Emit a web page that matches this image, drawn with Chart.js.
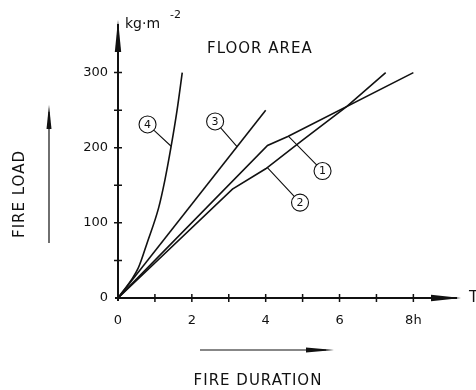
<!DOCTYPE html>
<html>
<head>
<meta charset="utf-8">
<script src="https://cdn.jsdelivr.net/npm/chart.js@4.4.1/dist/chart.umd.min.js"></script>
<style>
  html, body { margin: 0; padding: 0; background: #fff; }
  #fire-chart { display: block; }
</style>
</head>
<body>
<canvas id="fire-chart" width="476" height="390"></canvas>
<script>
// fire duration (h) vs fire load (kg/m2), curves 1..4
const hours1 = [0, 4.05, 4.6, 8];
const load1 = [0, 203, 215, 300];
const hours2 = [0, 3.1, 4, 5, 6.2, 7.25];
const load2 = [0, 145, 172, 210, 255, 300];
const hours3 = [0, 4];
const load3 = [0, 250];
const hours4 = [0, 0.55, 0.8, 1.1, 1.27, 1.44, 1.6, 1.74];
const load4 = [0, 40, 75, 120, 157, 202, 250, 300];

const durationLabels = [0, 2, 4, 6, 8];
const loadLabels = [0, 100, 200, 300];
const durationMarks = [1, 2, 3, 4, 5, 6, 7, 8];
const loadMarks = [50, 100, 150, 200, 250, 300];

// numbered callouts: circle position and the point on the curve it points at
const curveNames = ['1', '2', '3', '4'];
const calloutHours = [5.54, 4.93, 2.63, 0.80];
const calloutLoads = [169, 127, 235, 231];
const anchorHours = [4.62, 4.04, 3.23, 1.44];
const anchorLoads = [215, 174, 201, 202];

const ink = '#111';
const handFont = "'DejaVu Sans', sans-serif";

function pts(xs, ys) {
    return xs.map((x, i) => ({ x: x, y: ys[i] }));
}

function arrowHead(ctx, x, y, dir, len, half) {
    // dir: 'up' or 'right'
    ctx.beginPath();
    if (dir === 'up') {
        ctx.moveTo(x, y);
        ctx.lineTo(x - half, y + len);
        ctx.lineTo(x + half, y + len);
    } else {
        ctx.moveTo(x, y);
        ctx.lineTo(x - len, y - half);
        ctx.lineTo(x - len, y + half);
    }
    ctx.closePath();
    ctx.fill();
}

const sketchPlugin = {
    id: 'sketch',
    afterDraw(chart) {
        const ctx = chart.ctx;
        const xs = chart.scales.x, ys = chart.scales.y;
        const area = chart.chartArea;
        const x0 = xs.getPixelForValue(0), y0 = ys.getPixelForValue(0);
        ctx.save();
        ctx.strokeStyle = ink;
        ctx.fillStyle = ink;

        // axes
        ctx.lineWidth = 2;
        ctx.beginPath();
        ctx.moveTo(x0, y0 + 3);
        ctx.lineTo(x0, area.top + 4);
        ctx.moveTo(x0 - 3, y0);
        ctx.lineTo(area.right - 4, y0);
        ctx.stroke();
        arrowHead(ctx, x0, area.top, 'up', 32, 3.2);
        arrowHead(ctx, area.right, y0, 'right', 30, 3.2);

        // tick marks crossing the axes
        ctx.lineWidth = 1.5;
        ctx.beginPath();
        durationMarks.forEach(v => {
            const px = xs.getPixelForValue(v);
            ctx.moveTo(px, y0 - 4);
            ctx.lineTo(px, y0 + 4);
        });
        loadMarks.forEach(v => {
            const py = ys.getPixelForValue(v);
            ctx.moveTo(x0 - 4, py);
            ctx.lineTo(x0 + 4, py);
        });
        ctx.stroke();

        // callouts
        ctx.lineWidth = 1.1;
        ctx.font = '11px ' + handFont;
        ctx.textAlign = 'center';
        ctx.textBaseline = 'middle';
        const r = 8.5;
        curveNames.forEach((name, i) => {
            const cx = xs.getPixelForValue(calloutHours[i]);
            const cy = ys.getPixelForValue(calloutLoads[i]);
            const ax = xs.getPixelForValue(anchorHours[i]);
            const ay = ys.getPixelForValue(anchorLoads[i]);
            const d = Math.hypot(ax - cx, ay - cy);
            ctx.beginPath();
            ctx.arc(cx, cy, r, 0, Math.PI * 2);
            ctx.moveTo(cx + (ax - cx) * r / d, cy + (ay - cy) * r / d);
            ctx.lineTo(ax, ay);
            ctx.stroke();
            ctx.fillText(name, cx, cy + 0.5);
        });

        // unit and titles
        ctx.textAlign = 'left';
        ctx.textBaseline = 'alphabetic';
        ctx.font = '14px ' + handFont;
        ctx.fillText('kg·m', 125, 28);
        ctx.font = '11px ' + handFont;
        ctx.fillText('-2', 170, 18);

        ctx.font = '15px ' + handFont;
        ctx.letterSpacing = '1px';
        ctx.fillText('FLOOR AREA', 207, 53);
        ctx.textAlign = 'center';
        ctx.fillText('FIRE DURATION', 258, 385);
        ctx.save();
        ctx.translate(24, 194);
        ctx.rotate(-Math.PI / 2);
        ctx.fillText('FIRE LOAD', 0, 0);
        ctx.restore();
        ctx.letterSpacing = '0px';

        ctx.font = '15px ' + handFont;
        ctx.textAlign = 'left';
        ctx.textBaseline = 'middle';
        ctx.fillText('T', 469, y0);

        // direction arrows beside the axis titles
        ctx.lineWidth = 1.2;
        ctx.beginPath();
        ctx.moveTo(49, 243);
        ctx.lineTo(49, 112);
        ctx.moveTo(200, 350);
        ctx.lineTo(326, 350);
        ctx.stroke();
        arrowHead(ctx, 49, 105, 'up', 24, 2.5);
        arrowHead(ctx, 334, 350, 'right', 28, 2.5);

        ctx.restore();
    }
};

const lineStyle = { borderColor: ink, borderWidth: 1.6, pointRadius: 0, fill: false };

new Chart(document.getElementById('fire-chart').getContext('2d'), {
    type: 'line',
    data: {
        datasets: [
            Object.assign({ label: '1', data: pts(hours1, load1), tension: 0 }, lineStyle),
            Object.assign({ label: '2', data: pts(hours2, load2), tension: 0 }, lineStyle),
            Object.assign({ label: '3', data: pts(hours3, load3), tension: 0 }, lineStyle),
            Object.assign({ label: '4', data: pts(hours4, load4), cubicInterpolationMode: 'monotone' }, lineStyle)
        ]
    },
    options: {
        responsive: false,
        animation: false,
        devicePixelRatio: 1,
        layout: { padding: { left: 0, top: 20, right: 12, bottom: 0 } },
        plugins: { legend: { display: false }, tooltip: { enabled: false } },
        scales: {
            x: {
                type: 'linear', min: 0, max: 9.29,
                grid: { display: false, drawTicks: false },
                border: { display: false },
                ticks: {
                    stepSize: 1, autoSkip: false, maxRotation: 0, padding: 15,
                    color: ink, font: { family: handFont, size: 13 },
                    callback: v => durationLabels.includes(v) ? (v === 8 ? '8h' : String(v)) : ''
                },
                afterFit: s => { s.height = 92; }
            },
            y: {
                min: 0, max: 370,
                grid: { display: false, drawTicks: false },
                border: { display: false },
                ticks: {
                    stepSize: 50, autoSkip: false, padding: 10,
                    color: ink, font: { family: handFont, size: 13 },
                    callback: v => loadLabels.includes(v) ? String(v) : ''
                },
                afterFit: s => { s.width = 118; }
            }
        }
    },
    plugins: [sketchPlugin]
});
</script>
</body>
</html>
